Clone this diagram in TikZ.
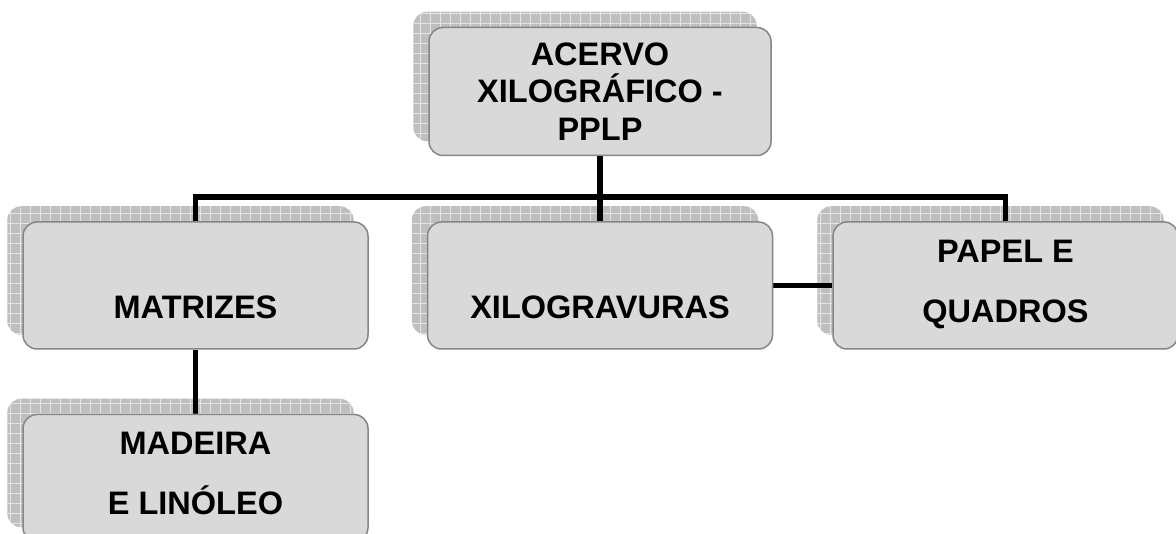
\documentclass[tikz,border=0pt]{standalone}
\usepackage{fontspec}
\setmainfont{Liberation Sans}
\usetikzlibrary{positioning,backgrounds,patterns.meta}

\begin{document}
\begin{tikzpicture}[x=1pt,y=-1pt,
  caixa/.style={draw=gray!95,line width=1.5pt,fill=gray!30,rounded corners=14pt,
    minimum width=345pt,minimum height=127pt,align=center,inner sep=0pt,
    font=\bfseries\fontsize{32.5}{60}\selectfont},
  sombra/.style={rounded corners=14pt,preaction={fill=gray!50},
    pattern={Hatch[distance=10pt,angle=0,line width=1pt]},pattern color=gray!20},
  liga/.style={line width=5.5pt}]
  \useasboundingbox (0,0) rectangle (1176,534);
  \node[caixa] (xilo) at (600,285.5) {\rule{0pt}{7pt}\\XILOGRAVURAS};
  \node[caixa,left=58pt of xilo] (matrizes) {\rule{0pt}{7pt}\\MATRIZES};
  \node[caixa,right=59pt of xilo] (papel) {PAPEL E\\\raisebox{0pt}[\height][9pt]{QUADROS}};
  \node[caixa,below=64pt of matrizes] (madeira) {MADEIRA\\\raisebox{0pt}[\height][9pt]{E LINÓLEO}};
  \node[caixa,above=65pt of xilo,minimum width=342pt,minimum height=128pt,
    font=\bfseries\fontsize{32.5}{37.5}\selectfont] (acervo) {ACERVO\\XILOGRÁFICO -\\PPLP};
  \coordinate (barra) at (600,197);
  \begin{scope}[on background layer]
    % sombras
    \foreach \n in {acervo,matrizes,xilo,papel,madeira}
      \path[sombra] ([shift={(-15,-15)}]\n.south west) rectangle ([shift={(-15,-15)}]\n.north east);
    % ligacoes
    \draw[liga] (acervo) -- (xilo);
    \draw[liga] (matrizes) |- (barra) -| (papel);
    \draw[liga] (matrizes) -- (madeira);
    \draw[liga] (xilo) -- (papel);
  \end{scope}
\end{tikzpicture}
\end{document}
